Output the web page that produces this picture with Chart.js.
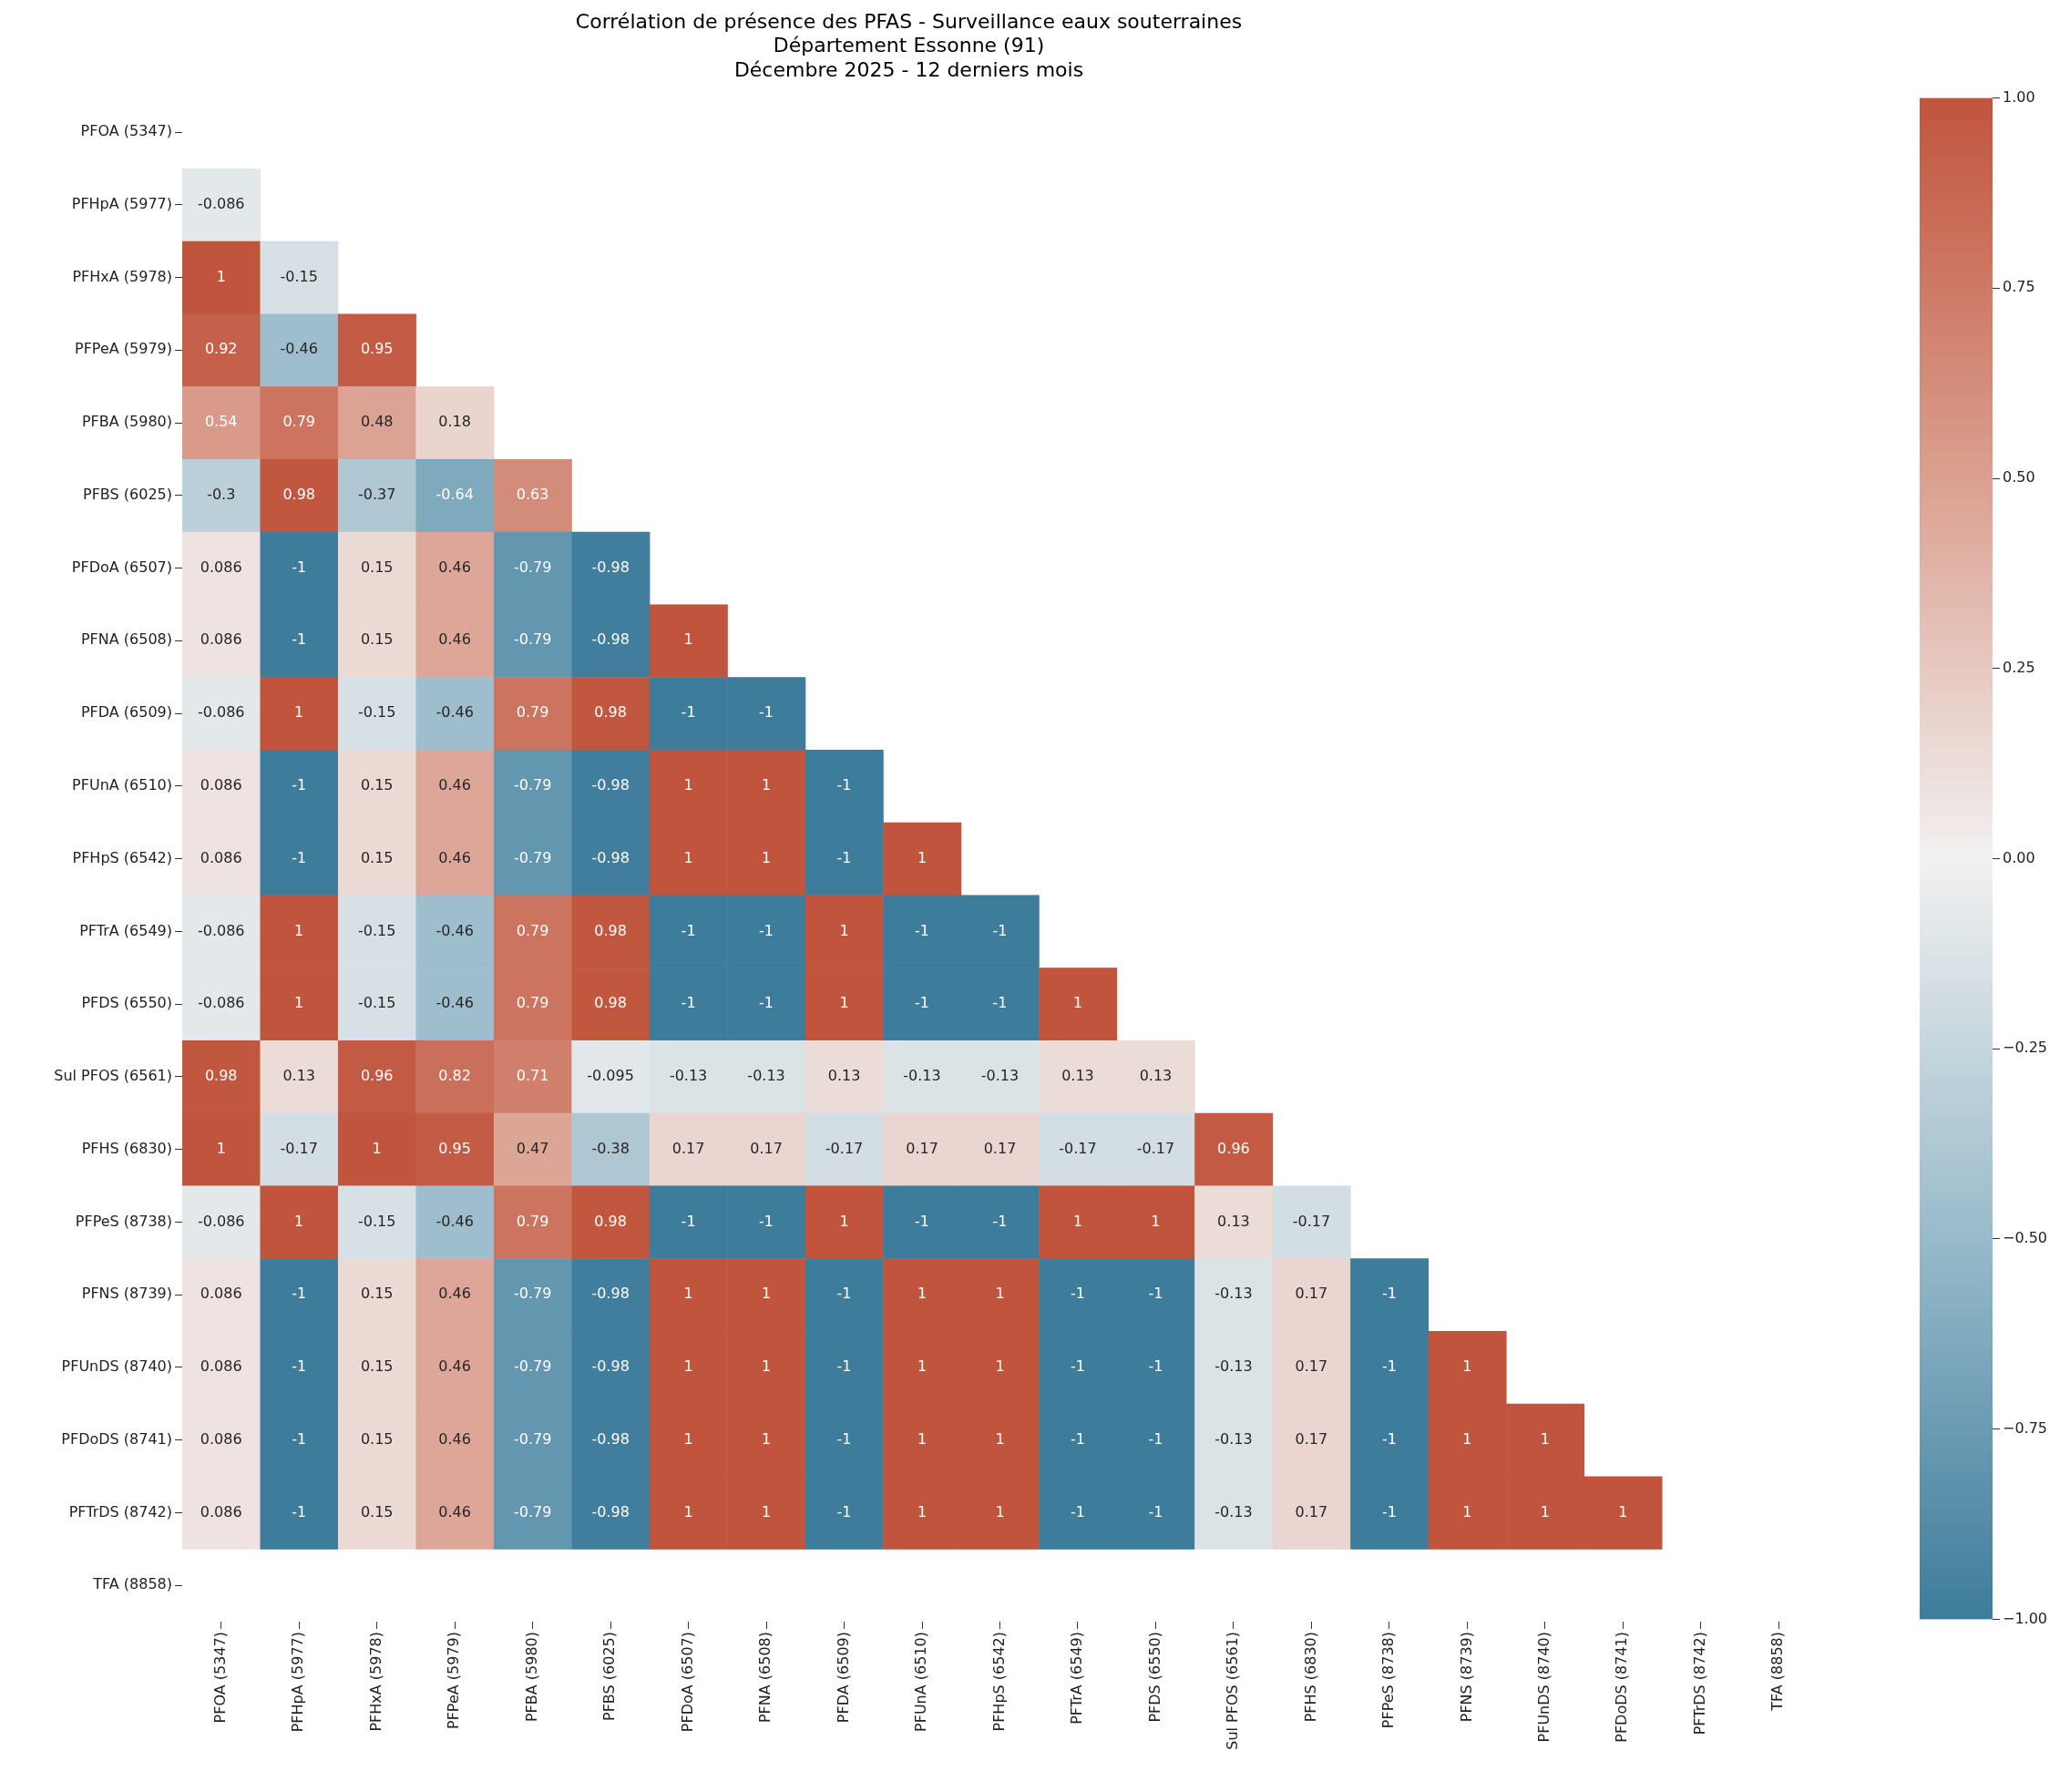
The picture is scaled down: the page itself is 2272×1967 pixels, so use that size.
<!DOCTYPE html>
<html>
<head>
<meta charset="utf-8">
<script src="https://cdn.jsdelivr.net/npm/chart.js@4"></script>
<style>
  body { margin: 0; background: #fff; }
  #main { position: absolute; left: 0; top: 0; width: 2000px; height: 1967px; }
  #cbar { position: absolute; left: 2107px; top: 95px; width: 200px; height: 1695px; }
</style>
</head>
<body>
<div id="main"><canvas id="heat"></canvas></div>
<div id="cbar"><canvas id="scale"></canvas></div>
<script>
const labels = ["PFOA (5347)", "PFHpA (5977)", "PFHxA (5978)", "PFPeA (5979)", "PFBA (5980)",
  "PFBS (6025)", "PFDoA (6507)", "PFNA (6508)", "PFDA (6509)", "PFUnA (6510)", "PFHpS (6542)",
  "PFTrA (6549)", "PFDS (6550)", "Sul PFOS (6561)", "PFHS (6830)", "PFPeS (8738)", "PFNS (8739)",
  "PFUnDS (8740)", "PFDoDS (8741)", "PFTrDS (8742)", "TFA (8858)"];

// lower triangle, row i holds columns 0..i-1
const rows = [
  [],
  [-0.086],
  [1, -0.15],
  [0.92, -0.46, 0.95],
  [0.54, 0.79, 0.48, 0.18],
  [-0.3, 0.98, -0.37, -0.64, 0.63],
  [0.086, -1, 0.15, 0.46, -0.79, -0.98],
  [0.086, -1, 0.15, 0.46, -0.79, -0.98, 1],
  [-0.086, 1, -0.15, -0.46, 0.79, 0.98, -1, -1],
  [0.086, -1, 0.15, 0.46, -0.79, -0.98, 1, 1, -1],
  [0.086, -1, 0.15, 0.46, -0.79, -0.98, 1, 1, -1, 1],
  [-0.086, 1, -0.15, -0.46, 0.79, 0.98, -1, -1, 1, -1, -1],
  [-0.086, 1, -0.15, -0.46, 0.79, 0.98, -1, -1, 1, -1, -1, 1],
  [0.98, 0.13, 0.96, 0.82, 0.71, -0.095, -0.13, -0.13, 0.13, -0.13, -0.13, 0.13, 0.13],
  [1, -0.17, 1, 0.95, 0.47, -0.38, 0.17, 0.17, -0.17, 0.17, 0.17, -0.17, -0.17, 0.96],
  [-0.086, 1, -0.15, -0.46, 0.79, 0.98, -1, -1, 1, -1, -1, 1, 1, 0.13, -0.17],
  [0.086, -1, 0.15, 0.46, -0.79, -0.98, 1, 1, -1, 1, 1, -1, -1, -0.13, 0.17, -1],
  [0.086, -1, 0.15, 0.46, -0.79, -0.98, 1, 1, -1, 1, 1, -1, -1, -0.13, 0.17, -1, 1],
  [0.086, -1, 0.15, 0.46, -0.79, -0.98, 1, 1, -1, 1, 1, -1, -1, -0.13, 0.17, -1, 1, 1],
  [0.086, -1, 0.15, 0.46, -0.79, -0.98, 1, 1, -1, 1, 1, -1, -1, -0.13, 0.17, -1, 1, 1, 1],
  []
];

const cbTicks = [-1, -0.75, -0.5, -0.25, 0, 0.25, 0.5, 0.75, 1];

// colour stops approximating seaborn diverging_palette(230, 20)
const stops = [
  [-1, [61, 124, 155]],
  [-0.5, [152, 186, 202]],
  [0, [242, 241, 241]],
  [0.5, [219, 160, 144]],
  [1, [193, 84, 61]]
];

function colorFor(v) {
  for (let i = 1; i < stops.length; i++) {
    if (v <= stops[i][0]) {
      const [a, ca] = stops[i - 1], [b, cb] = stops[i];
      const t = (v - a) / (b - a);
      const c = ca.map((x, k) => Math.round(x + (cb[k] - x) * t));
      return `rgb(${c[0]},${c[1]},${c[2]})`;
    }
  }
  return `rgb(${stops[stops.length - 1][1].join(",")})`;
}

const cells = [];
rows.forEach((r, i) => r.forEach((v, j) => cells.push({ x: labels[j], y: labels[i], v })));

const font = "'DejaVu Sans', sans-serif";

const heatPlugin = {
  id: "heat",
  beforeDatasetsDraw(chart) {
    const { ctx, scales: { x, y } } = chart;
    const w = x.getPixelForValue(1) - x.getPixelForValue(0);
    const h = y.getPixelForValue(1) - y.getPixelForValue(0);
    ctx.save();
    ctx.font = `16px ${font}`;
    ctx.textAlign = "center";
    ctx.textBaseline = "middle";
    for (const c of chart.data.datasets[0].data) {
      const px = x.getPixelForValue(labels.indexOf(c.x));
      const py = y.getPixelForValue(labels.indexOf(c.y));
      ctx.fillStyle = colorFor(c.v);
      ctx.fillRect(px - w / 2, py - h / 2, w + 0.5, h + 0.5);
      ctx.fillStyle = Math.abs(c.v) > 0.5 ? "#ffffff" : "#262626";
      ctx.fillText(String(c.v), px, py);
    }
    ctx.restore();
  }
};

new Chart(document.getElementById("heat"), {
  type: "scatter",
  data: { datasets: [{ data: cells, pointRadius: 0, pointHoverRadius: 0 }] },
  plugins: [heatPlugin],
  options: {
    responsive: true,
    maintainAspectRatio: false,
    animation: false,
    events: [],
    layout: { padding: { left: 0, right: 5, top: 0, bottom: 0 } },
    plugins: {
      legend: { display: false },
      tooltip: { enabled: false },
      title: {
        display: true,
        text: ["Corrélation de présence des PFAS - Surveillance eaux souterraines",
               "Département Essonne (91)", "Décembre 2025 - 12 derniers mois"],
        color: "#000",
        font: { family: font, size: 22, weight: "normal", lineHeight: 1.2 },
        padding: { top: 12, bottom: 14 }
      }
    },
    scales: {
      x: {
        type: "category",
        labels,
        offset: true,
        afterFit: s => { s.height = 187; },
        grid: { drawOnChartArea: false, tickLength: 8, color: "#333" },
        border: { display: false },
        ticks: { color: "#222", font: { family: font, size: 16 }, maxRotation: 90, minRotation: 90, autoSkip: false }
      },
      y: {
        type: "category",
        labels,
        offset: true,
        afterFit: s => { s.width = 200; },
        grid: { drawOnChartArea: false, tickLength: 8, color: "#333" },
        border: { display: false },
        ticks: { color: "#222", font: { family: font, size: 16 }, autoSkip: false }
      }
    }
  }
});

const gradPlugin = {
  id: "grad",
  beforeDatasetsDraw(chart) {
    const { ctx, chartArea: a, scales: { y } } = chart;
    const g = ctx.createLinearGradient(0, y.getPixelForValue(1), 0, y.getPixelForValue(-1));
    stops.slice().reverse().forEach(([v]) => g.addColorStop((1 - v) / 2, colorFor(v)));
    ctx.save();
    ctx.fillStyle = g;
    ctx.fillRect(a.left, a.top, a.right - a.left, a.bottom - a.top);
    ctx.restore();
  }
};

new Chart(document.getElementById("scale"), {
  type: "scatter",
  data: { datasets: [{ data: [], pointRadius: 0 }] },
  plugins: [gradPlugin],
  options: {
    responsive: true,
    maintainAspectRatio: false,
    animation: false,
    events: [],
    layout: { padding: { top: 10, bottom: 10, left: 0, right: 0 } },
    plugins: { legend: { display: false }, tooltip: { enabled: false } },
    scales: {
      x: { display: false, min: 0, max: 1 },
      y: {
        position: "right",
        min: -1, max: 1,
        afterFit: s => { s.width = 120; },
        afterBuildTicks: s => { s.ticks = cbTicks.map(v => ({ value: v })); },
        grid: { drawOnChartArea: false, tickLength: 8, color: "#333" },
        border: { display: false },
        ticks: {
          color: "#222",
          font: { family: font, size: 16 },
          callback: v => (v < 0 ? "\u2212" : "") + Math.abs(v).toFixed(2)
        }
      }
    }
  }
});
</script>
</body>
</html>
